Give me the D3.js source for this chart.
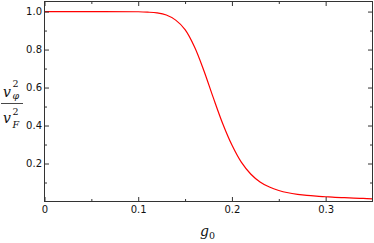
<!DOCTYPE html>
<html>
<head>
<meta charset="utf-8">
<script src="https://cdn.jsdelivr.net/npm/d3@7"></script>
<style>
  body { margin: 0; background: #fff; }
  svg { display: block; }
  .tick text { font-family: "DejaVu Sans", sans-serif; font-size: 10px; fill: #111; }
  .tick line { stroke: #333; }
  .math { font-family: "DejaVu Serif", serif; fill: #111; }
</style>
</head>
<body>
<div id="chart"></div>
<script>
// data
const g0 = [0, 0.05, 0.10, 0.11, 0.12, 0.13, 0.14, 0.15, 0.16, 0.17, 0.18, 0.19, 0.20, 0.21, 0.22, 0.23, 0.24, 0.25, 0.26, 0.27, 0.28, 0.29, 0.30, 0.31, 0.32, 0.33, 0.34, 0.35];
const ratio = [1.0, 1.0, 0.999, 0.997, 0.993, 0.982, 0.955, 0.905, 0.815, 0.69, 0.548, 0.412, 0.297, 0.207, 0.145, 0.103, 0.076, 0.058, 0.046, 0.038, 0.032, 0.028, 0.025, 0.022, 0.02, 0.018, 0.016, 0.014];
const xMajor = [0, 0.1, 0.2, 0.3];
const xMinor = [0.05, 0.15, 0.25];
const yMajor = [0.2, 0.4, 0.6, 0.8, 1.0];
const yMinor = [0.1, 0.3, 0.5, 0.7, 0.9];

const width = 374, height = 243;
const margin = { left: 44.5, right: 1.5, top: 1.5, bottom: 41.5 };
const plotW = width - margin.left - margin.right;
const plotH = height - margin.top - margin.bottom;

const svg = d3.select("#chart")
  .append("svg")
  .attr("width", width)
  .attr("height", height);

const xScale = d3.scaleLinear().domain([0, 0.35]).range([0, plotW]);
const yScale = d3.scaleLinear().domain([0, 1.053]).range([plotH, 0]);

const plot = svg.append("g")
  .attr("transform", `translate(${margin.left},${margin.top})`);

// curve
const line = d3.line()
  .x((d, i) => xScale(g0[i]))
  .y(d => yScale(d))
  .curve(d3.curveCatmullRom);

plot.append("path")
  .datum(ratio)
  .attr("d", line)
  .attr("fill", "none")
  .attr("stroke", "#ff0000")
  .attr("stroke-width", 1.2);

// ticks pointing inward on all four sides
function addAxis(axis, transform, labels) {
  const g = plot.append("g").attr("transform", transform).call(axis);
  g.select(".domain").remove();
  if (!labels) g.selectAll("text").remove();
  return g;
}

const fmtX = d => d === 0 ? "0" : d3.format(".1f")(d);
addAxis(d3.axisBottom(xScale).tickValues(xMajor).tickSize(-4.5).tickPadding(4).tickFormat(fmtX), `translate(0,${plotH})`, true);
addAxis(d3.axisBottom(xScale).tickValues(xMinor).tickSize(-2.5), `translate(0,${plotH})`, false);
addAxis(d3.axisTop(xScale).tickValues(xMajor).tickSize(-4.5), "translate(0,0)", false);
addAxis(d3.axisTop(xScale).tickValues(xMinor).tickSize(-2.5), "translate(0,0)", false);

addAxis(d3.axisLeft(yScale).tickValues(yMajor).tickSize(-4.5).tickPadding(2.5).tickFormat(d3.format(".1f")), "translate(0,0)", true);
addAxis(d3.axisLeft(yScale).tickValues(yMinor).tickSize(-2.5), "translate(0,0)", false);
addAxis(d3.axisRight(yScale).tickValues(yMajor).tickSize(-4.5), `translate(${plotW},0)`, false);
addAxis(d3.axisRight(yScale).tickValues(yMinor).tickSize(-2.5), `translate(${plotW},0)`, false);

// frame
plot.append("rect")
  .attr("width", plotW)
  .attr("height", plotH)
  .attr("fill", "none")
  .attr("stroke", "#333")
  .attr("stroke-width", 1);

// x label: g_0
const xl = svg.append("text").attr("class", "math").attr("x", 200).attr("y", 236);
xl.append("tspan").attr("font-style", "italic").attr("font-size", 14).text("g");
xl.append("tspan").attr("font-size", 9.5).attr("dy", 2.5).text("0");

// y label: v_phi^2 / v_F^2
const yl = svg.append("g").attr("class", "math");
yl.append("text").attr("x", 3).attr("y", 96.5).attr("font-style", "italic").attr("font-size", 14).text("v");
yl.append("text").attr("x", 12.5).attr("y", 87).attr("font-size", 9.5).text("2");
yl.append("text").attr("x", 12.5).attr("y", 98.5).attr("font-style", "italic").attr("font-size", 9.5).text("φ");
yl.append("line").attr("x1", 1).attr("x2", 23).attr("y1", 103.5).attr("y2", 103.5)
  .attr("stroke", "#333").attr("stroke-width", 0.9);
yl.append("text").attr("x", 3).attr("y", 122.5).attr("font-style", "italic").attr("font-size", 14).text("v");
yl.append("text").attr("x", 12.5).attr("y", 115).attr("font-size", 9.5).text("2");
yl.append("text").attr("x", 12.5).attr("y", 128).attr("font-style", "italic").attr("font-size", 9.5).text("F");
</script>
</body>
</html>
